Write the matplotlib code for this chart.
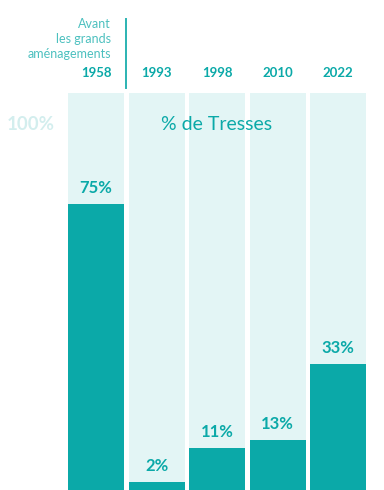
import matplotlib
matplotlib.use("Agg")
import matplotlib.pyplot as plt

# data
years = ["1958", "1993", "1998", "2010", "2022"]
values = [75, 2, 11, 13, 33]
labels = ["75%", "2%", "11%", "13%", "33%"]

dark = "#0BA9A8"
light = "#E3F5F5"
plt.rcParams['font.family'] = ['Lato', 'DejaVu Sans']

H = 490
k = 3.814          # pixels per percent

fig = plt.figure(figsize=(3.84, 4.90), dpi=100)
ax = fig.add_axes([0, 0, 1, 1])
ax.set_xlim(-96 / 60.5, (384 - 96) / 60.5)
ax.set_ylim(0, H / k)
ax.axis("off")


def py(pix):
    # pixel row from top -> data y
    return (H - pix) / k


x = list(range(len(years)))
w = 56 / 60.5
# background columns run up to the top row of the chart
ax.bar(x, [py(93)] * len(x), width=w, color=light, zorder=1)
ax.bar(x, values, width=w, color=dark, zorder=2)

for i, v in enumerate(values):
    ax.text(i, v + 16 / k, labels[i], ha="center", va="center", color=dark,
            fontsize=12, fontweight="bold", zorder=3)

for i, yr in enumerate(years):
    ax.text(i, py(73), yr, ha="center", va="center", color=dark,
            fontsize=9.5, fontweight="bold")

ax.text(0.25, py(39), "Avant\nles grands\naménagements", ha="right",
        va="center", color="#4CC0BF", fontsize=9, linespacing=1.25)

# separator line
ax.plot([0.5, 0.5], [py(19), py(88)], color="#2BB3B2", lw=1.4)

ax.text(2.0, py(125), "% de Tresses", ha="center", va="center",
        color=dark, fontsize=14)
ax.text(-1.08, py(125), "100%", ha="center", va="center",
        color="#D3EEEE", fontsize=13.5, fontweight="bold")

fig.savefig("out.png", dpi=100)
